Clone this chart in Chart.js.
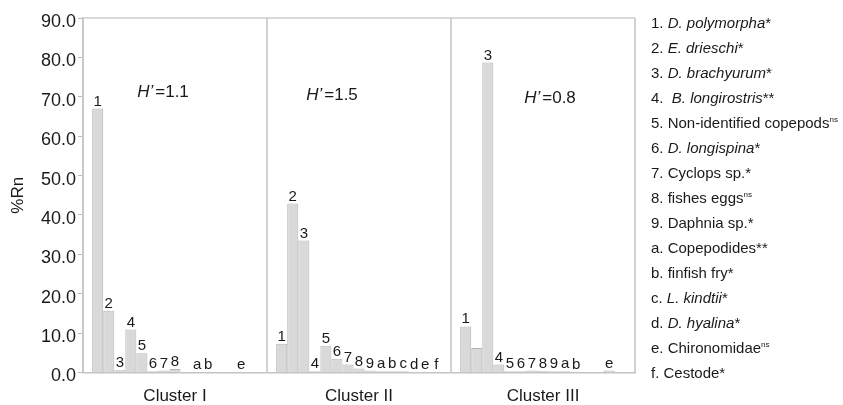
<!DOCTYPE html>
<html>
<head>
<meta charset="utf-8">
<script src="https://cdn.jsdelivr.net/npm/chart.js@4.4.1/dist/chart.umd.min.js"></script>
<style>
  body { margin: 0; background: #fff; }
  #wrap { position: relative; width: 843px; height: 405px; }
  #legend { position: absolute; left: 651px; top: 10px; font-family: "Liberation Sans", Arial, sans-serif; font-size: 15px; color: #1a1a1a; }
  #legend div { height: 25px; line-height: 25px; white-space: pre; }
  #legend sup { font-size: 8px; vertical-align: 6px; line-height: 0; }
</style>
</head>
<body>
<div id="wrap">
  <canvas id="chart"></canvas>
  <div id="legend"></div>
</div>
<script>
// Chart data
const clusters = ['Cluster I', 'Cluster II', 'Cluster III'];
const taxa = ['1', '2', '3', '4', '5', '6', '7', '8', '9', 'a', 'b', 'c', 'd', 'e', 'f'];
const clusterI = [67.0, 15.7, 0.6, 10.9, 4.9, 0.3, 0.5, 0.9, 0, 0.1, 0.1, 0, 0, 0.1, 0];
const clusterII = [7.3, 42.9, 33.5, 0.3, 6.8, 3.5, 2.0, 1.0, 0.5, 0.3, 0.3, 0.3, 0.2, 0.2, 0.2];
const clusterIII = [11.7, 6.2, 78.7, 2.0, 0.3, 0.3, 0.5, 0.4, 0.3, 0.3, 0.2, 0, 0, 0.5, 0];

// which bar labels are printed in each cluster
const labelsI = ['1', '2', '3', '4', '5', '6', '7', '8', '', 'a', 'b', '', '', 'e', ''];
const labelsII = ['1', '2', '3', '4', '5', '6', '7', '8', '9', 'a', 'b', 'c', 'd', 'e', 'f'];
const labelsIII = ['1', '', '3', '4', '5', '6', '7', '8', '9', 'a', 'b', '', '', 'e', ''];

const diversity = ['1.1', '1.5', '0.8'];
const yTicks = [0, 10, 20, 30, 40, 50, 60, 70, 80, 90];

// legend text
const legendNames = ['D. polymorpha', 'E. drieschi', 'D. brachyurum', ' B. longirostris', 'Non-identified copepods',
  'D. longispina', 'Cyclops sp.', 'fishes eggs', 'Daphnia sp.', 'Copepodides', 'finfish fry',
  'L. kindtii', 'D. hyalina', 'Chironomidae', 'Cestode'];
const legendItalic = [true, true, true, true, false, true, false, false, false, false, false, true, true, false, false];
const legendMarks = ['*', '*', '*', '**', 'ns', '*', '*', 'ns', '*', '**', '*', '*', '*', 'ns', '*'];

const FONT = '"Liberation Sans", Arial, sans-serif';

// build the legend
const legendBox = document.getElementById('legend');
taxa.forEach((t, i) => {
    const row = document.createElement('div');
    const name = legendItalic[i] ? '<i>' + legendNames[i] + '</i>' : legendNames[i];
    const mark = legendMarks[i] === 'ns' ? '<sup>ns</sup>' : legendMarks[i];
    row.innerHTML = t + '. ' + name + mark;
    legendBox.appendChild(row);
});

const allLabels = [labelsI, labelsII, labelsIII];

// numbers above the bars, H' text, frame
const barText = {
    id: 'barText',
    afterDatasetsDraw(c) {
        const ctx = c.ctx;
        ctx.save();
        ctx.fillStyle = '#1a1a1a';
        ctx.font = '15px ' + FONT;
        ctx.textAlign = 'center';
        ctx.textBaseline = 'alphabetic';
        c.data.datasets.forEach((ds, i) => {
            const meta = c.getDatasetMeta(i);
            meta.data.forEach((bar, j) => {
                const txt = allLabels[j][i];
                if (txt) ctx.fillText(txt, bar.x, bar.y - 3);
            });
        });

        // H' diversity index
        const xs = c.scales.x, ys = c.scales.y;
        const hPos = [{ dx: -12, v: 71.2 }, { dx: -27, v: 70.4 }, { dx: 7, v: 69.6 }];
        ctx.textBaseline = 'middle';
        diversity.forEach((h, j) => {
            const cx = xs.getPixelForValue(j) + hPos[j].dx;
            const cy = ys.getPixelForValue(hPos[j].v);
            ctx.font = 'italic 17px ' + FONT;
            const w1 = ctx.measureText('H\u2019').width;
            ctx.font = '17px ' + FONT;
            const rest = '=' + h;
            const w2 = ctx.measureText(rest).width;
            let x0 = cx - (w1 + w2 + 2) / 2;
            ctx.textAlign = 'left';
            ctx.font = 'italic 17px ' + FONT;
            ctx.fillText('H\u2019', x0, cy);
            ctx.font = '17px ' + FONT;
            ctx.fillText(rest, x0 + w1 + 2, cy);
        });

        // top edge of the plot frame
        const a = c.chartArea;
        ctx.strokeStyle = '#cccccc';
        ctx.lineWidth = 1.5;
        ctx.beginPath();
        ctx.moveTo(a.left, a.top);
        ctx.lineTo(a.right, a.top);
        ctx.stroke();
        ctx.restore();
    }
};

const datasets = taxa.map((t, i) => ({
    label: t,
    data: [clusterI[i], clusterII[i], clusterIII[i]],
    backgroundColor: '#d9d9d9',
    borderColor: '#b5b5b5',
    borderWidth: 1,
    categoryPercentage: 0.9,
    barPercentage: 1.0
}));

const ctx = document.getElementById('chart').getContext('2d');
const chart = new Chart(ctx, {
    type: 'bar',
    data: { labels: clusters, datasets: datasets },
    options: {
        responsive: true,
        maintainAspectRatio: false,
        animation: false,
        layout: { padding: { top: 18, right: 208, bottom: 0, left: 0 } },
        plugins: {
            legend: { display: false },
            tooltip: { enabled: false }
        },
        scales: {
            x: {
                grid: { display: true, offset: true, drawOnChartArea: true, drawTicks: false, color: '#d2d2d2', lineWidth: 2 },
                border: { display: true, color: '#c4c4c4', width: 1.5 },
                ticks: { color: '#1a1a1a', font: { family: FONT, size: 17 }, padding: 14 },
                afterFit(scale) { scale.height = 32.5; }
            },
            y: {
                min: 0,
                max: 90,
                afterBuildTicks(scale) { scale.ticks = yTicks.map(v => ({ value: v })); },
                grid: { drawOnChartArea: false, drawTicks: true, tickLength: 5, color: '#bbbbbb' },
                border: { display: true, color: '#c4c4c4', width: 1.5 },
                ticks: {
                    color: '#1a1a1a',
                    font: { family: FONT, size: 18 },
                    padding: 2,
                    labelOffset: 4,
                    callback: v => Number(v).toFixed(1)
                },
                title: { display: true, text: '%Rn', color: '#1a1a1a', font: { family: FONT, size: 17 }, padding: { top: 8, bottom: 0 } },
                afterFit(scale) { scale.width = 83; }
            }
        }
    },
    plugins: [barText]
});
</script>
</body>
</html>
